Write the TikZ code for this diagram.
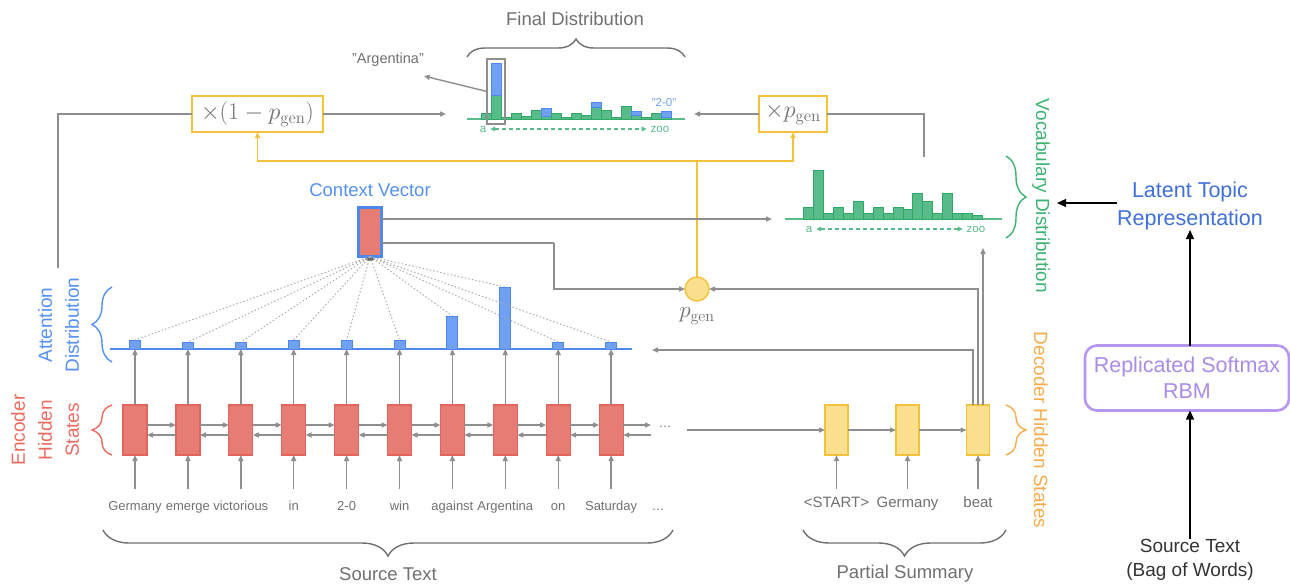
\RequirePackage{fix-cm}
\documentclass[tikz,border=0pt]{standalone}
\usepackage[no-math]{fontspec}
\setmainfont{Liberation Sans}
\usetikzlibrary{arrows.meta,decorations.pathreplacing,calc}

\definecolor{lngray}{HTML}{8E8E8E}
\definecolor{txtgray}{HTML}{707070}
\definecolor{encred}{HTML}{E67C73}
\definecolor{encredb}{HTML}{E3645A}
\definecolor{enclab}{HTML}{EA6A5E}
\definecolor{attblue}{HTML}{6FA0F2}
\definecolor{attblueb}{HTML}{4E88EC}
\definecolor{labblue}{HTML}{5590F2}
\definecolor{vocgreen}{HTML}{57BB8A}
\definecolor{vocgreenb}{HTML}{2FA866}
\definecolor{voclab}{HTML}{3DB272}
\definecolor{decyel}{HTML}{FADF8E}
\definecolor{decyelb}{HTML}{F4C13A}
\definecolor{decorange}{HTML}{F6AC4C}
\definecolor{topicblue}{HTML}{3F70DA}
\definecolor{rbmpurple}{HTML}{B596F0}
\definecolor{rbmtext}{HTML}{A98BE8}

\tikzset{
  every node/.style={inner sep=0pt, outer sep=0pt},
  gline/.style={draw=lngray, line width=1.4pt},
  garrow/.style={gline, -{Triangle[length=6pt,width=5pt]}},
  yline/.style={draw=decyelb, line width=1.4pt},
  yarrow/.style={yline, -{Triangle[length=6pt,width=5pt]}},
  barrow/.style={draw=black, line width=1.3pt, -{Triangle[length=9pt,width=8pt]}},
  encbox/.style={rectangle, fill=encred, draw=encredb, line width=1.2pt,
    minimum width=24pt, minimum height=50pt},
  decbox/.style={rectangle, fill=decyel, draw=decyelb, line width=1.2pt,
    minimum width=23pt, minimum height=50pt},
  attbar/.style={rectangle, fill=attblue, draw=attblueb, line width=1pt,
    minimum width=11pt, anchor=south},
  word/.style={text=txtgray, font=\fontsize{13}{15}\selectfont, anchor=base},
  dword/.style={text=txtgray, font=\fontsize{15}{18}\selectfont, anchor=base},
  grouplab/.style={text=txtgray, font=\fontsize{18.5}{22}\selectfont},
  mathbox/.style={rectangle, draw=decyelb, line width=1.4pt, fill=white,
    minimum height=36pt, text=txtgray, font=\fontsize{24}{28}\selectfont},
  tiny/.style={font=\fontsize{11.5}{13}\selectfont},
  bracedec/.style={decorate, decoration={brace, amplitude=#1}, line width=1.4pt},
  dotline/.style={draw=lngray!75, line width=1pt, dash pattern=on 1.4pt off 2.2pt},
  vlab/.style={align=center, font=\fontsize{19}{27}\selectfont},
}

\begin{document}
\begin{tikzpicture}[x=1pt, y=-1pt]
\useasboundingbox (0,0) rectangle (1290,584);

% ---------------- encoder ----------------
\foreach \w [count=\i] in {Germany,emerge,victorious,in,2-0,win,against,Argentina,on,Saturday} {
  \pgfmathsetmacro\xx{135+52.9*(\i-1)}
  \node[encbox] (e\i) at (\xx,430) {};
  \node[word] (w\i) at (\xx,510) {\w};
  \coordinate (in\i) at (\xx,489);
  \draw[garrow] (in\i) -- (e\i.south);
}
\node[word] (wdots) at (658,510) {\dots};
\foreach \i [evaluate=\i as \j using int(\i+1)] in {1,...,9} {
  \draw[garrow] ([yshift=5pt]e\i.east) -- ([yshift=5pt]e\j.west);
  \draw[garrow] ([yshift=-5pt]e\j.west) -- ([yshift=-5pt]e\i.east);
}
\coordinate (eout) at (651,430);
\draw[garrow] ([yshift=5pt]e10.east) -- ([yshift=5pt]eout);
\draw[garrow] ([yshift=-5pt]eout) -- ([yshift=-5pt]e10.east);
\node[text=txtgray, font=\fontsize{13}{15}\selectfont] (edots) at (665,427) {\dots};

% ---------------- attention distribution ----------------
\coordinate (attL) at (110,349);
\coordinate (attR) at (632,349);
\draw[draw=attblueb, line width=1.3pt] (attL) -- (attR);
\foreach \h [count=\i] in {9,7,7,9,9,9,33,62,7,7} {
  \pgfmathsetmacro\xx{135+52.9*(\i-1)}
  \node[attbar, minimum height=\h pt] (a\i) at (\xx,349) {};
  \draw[garrow] (e\i.north) -- (a\i.south);
}

% ---------------- context vector ----------------
\fill[black!60] (370,257) ellipse (6pt and 4pt);
\node[rectangle, fill=encred, draw=attblueb, line width=3pt,
      minimum width=23pt, minimum height=49pt] (ctx) at (370,232) {};
\node[text=labblue, font=\fontsize{18.5}{22}\selectfont] (ctxlab) at (370,190) {Context Vector};
\foreach \i in {1,...,10} {
  \draw[dotline] (ctx.south) -- (a\i.north);
}

% ---------------- p_gen ----------------
\node[circle, fill=decyel, draw=decyelb, line width=1.4pt, minimum size=24pt] (pgen) at (697,289) {};
\node[text=txtgray, font=\fontsize{23}{27}\selectfont] (pgenlab) at (697,316) {$p_{\mathrm{gen}}$};

\coordinate (ctxturn) at (554,243);
\draw[gline] ([yshift=-11pt]ctx.east) -- (ctxturn);
\draw[garrow] (ctxturn) |- (pgen.west);

% ---------------- mixing boxes ----------------
\node[mathbox, minimum width=131pt] (m1) at (257.5,114) {$\times(1-p_{\mathrm{gen}})$};
\node[mathbox, minimum width=68pt] (m2) at (793,114) {$\times p_{\mathrm{gen}}$};

\coordinate (ysplit) at (697,161);
\draw[yline] (pgen.north) -- (ysplit);
\draw[yarrow] (ysplit) -| (m1.south);
\draw[yarrow] (ysplit) -| (m2.south);

\coordinate (lstart) at (58,268);
\coordinate (fdin) at (446,114);
\coordinate (fdin2) at (694,114);
\coordinate (vtop) at (924,157);
\draw[gline] (lstart) |- (m1.west);
\draw[garrow] (m1.east) -- (fdin);
\draw[garrow] (m2.west) -- (fdin2);
\draw[gline] (vtop) |- (m2.east);

% ---------------- final distribution ----------------
\draw[draw=vocgreen, line width=1.6pt] (467,119) -- (685,119);
\foreach \g/\b [count=\i from 0] in {6/0,24/32,2/0,6/0,3/0,9/0,3/8,6/0,2/0,6/0,4/0,12/5,9/0,2/0,13/0,4/4,2/0,6/0,2/6} {
  \draw[fill=vocgreen, draw=vocgreenb, line width=0.8pt] ({481+10*\i},119) rectangle ++(10,-\g);
  \ifdim \b pt>0pt
    \draw[fill=attblue, draw=attblueb, line width=0.8pt] ({481+10*\i},{119-\g}) rectangle ++(10,-\b);
  \fi
}
\node[rectangle, draw=lngray, line width=1.2pt, minimum width=18pt, minimum height=65pt] (hl) at (496,91.5) {};
\node[text=txtgray, font=\fontsize{14.5}{17}\selectfont] (arg) at (388,60) {"Argentina"};
\draw[garrow] (hl.west) -- ([yshift=-16pt]arg.east);
\node[tiny, text=attblue] (lab20) at (664,103) {"2-0"};
\node[tiny, text=vocgreen] (fa) at (483,129) {a};
\node[tiny, text=vocgreen] (fz) at (660,129) {zoo};
\draw[draw=vocgreen, line width=1.3pt, dash pattern=on 4pt off 3pt,
      {Triangle[length=5pt,width=4.5pt]}-{Triangle[length=5pt,width=4.5pt]}]
      ([xshift=4pt]fa.east) -- ([xshift=-4pt]fz.west);
\draw[bracedec=18pt, draw=txtgray] (467,57) -- (685,57);
\node[grouplab] (fdlab) at (575,19) {Final Distribution};

% ---------------- vocabulary distribution ----------------
\coordinate (vin) at (772,219);
\draw[garrow] ([yshift=13pt]ctx.east) -- (vin);
\draw[draw=vocgreen, line width=1.6pt] (785,219) -- (1002,219);
\foreach \g [count=\i from 0] in {12,49,6,12,6,18,6,12,6,12,10,26,18,6,26,6,6,4} {
  \draw[fill=vocgreen, draw=vocgreenb, line width=0.8pt] ({803.3+9.96*\i},219) rectangle ++(9.96,-\g);
}
\node[tiny, text=vocgreen] (va) at (809,229) {a};
\node[tiny, text=vocgreen] (vz) at (976,229) {zoo};
\draw[draw=vocgreen, line width=1.3pt, dash pattern=on 4pt off 3pt,
      {Triangle[length=5pt,width=4.5pt]}-{Triangle[length=5pt,width=4.5pt]}]
      ([xshift=4pt]va.east) -- ([xshift=-4pt]vz.west);
\draw[bracedec=20pt, draw=voclab] (1006,156) -- (1006,238);
\node[vlab, rotate=-90, text=voclab] (voclbl) at (1041,196) {Vocabulary Distribution};

% ---------------- decoder ----------------
\foreach \x/\w [count=\i] in {836.5/{<START>},907.5/Germany,978/beat} {
  \node[decbox] (d\i) at (\x,430) {};
  \node[dword] (dw\i) at (\x,507) {\w};
  \coordinate (din\i) at (\x,489);
  \draw[garrow] (din\i) -- (d\i.south);
}
\coordinate (dstart) at (687,430);
\draw[garrow] (dstart) -- (d1.west);
\draw[garrow] (d1.east) -- (d2.west);
\draw[garrow] (d2.east) -- (d3.west);
\coordinate (attin) at (652,350);
\coordinate (vocup) at (983,248);
\draw[garrow] ([xshift=-5pt]d3.north) |- (attin);
\draw[garrow] (d3.north) |- (pgen.east);
\draw[garrow] ([xshift=5pt]d3.north) -- (vocup);
\draw[bracedec=20pt, draw=decorange] (1006,405) -- (1006,455);
\node[vlab, rotate=-90, text=decorange] (declbl) at (1041,430) {Decoder Hidden States};

% ---------------- left labels ----------------
\draw[bracedec=20pt, draw=enclab] (112,455) -- (112,405);
\node[vlab, rotate=90, text=enclab] (enclbl) at (45,430) {Encoder\\Hidden\\States};
\draw[bracedec=20pt, draw=labblue] (112,362) -- (112,287);
\node[vlab, rotate=90, text=labblue] (attlbl) at (58.5,325) {Attention\\Distribution};

% ---------------- bottom groups ----------------
\draw[bracedec=26pt, draw=txtgray] (673,530) -- (103,530);
\node[grouplab] (srclab) at (388,574) {Source Text};
\draw[bracedec=26pt, draw=txtgray] (1006,530) -- (803,530);
\node[grouplab] (pslab) at (905,574) {Partial Summary};

% ---------------- topic model ----------------
\node[text=topicblue, align=center, font=\fontsize{21.5}{28}\selectfont] (lt) at (1190,206) {Latent Topic\\Representation};
\coordinate (vbtip) at (1057,203);
\draw[barrow] ([yshift=3pt]lt.west) -- (vbtip);
\node[rectangle, rounded corners=12pt, draw=rbmpurple, line width=2.6pt, text=rbmtext,
      align=center, font=\fontsize{21.5}{26}\selectfont, minimum width=204pt, minimum height=65pt]
      (rbm) at (1187,378) {Replicated Softmax\\RBM};
\node[text=black!80, align=center, font=\fontsize{19}{24}\selectfont] (st) at (1190,560) {Source Text\\(Bag of Words)};
\draw[barrow] ([xshift=3pt]rbm.north) -- ([xshift=3pt]rbm.north |- lt.south);
\draw[barrow] ([xshift=3pt]rbm.south |- st.north) -- ([xshift=3pt]rbm.south);
\end{tikzpicture}
\end{document}
